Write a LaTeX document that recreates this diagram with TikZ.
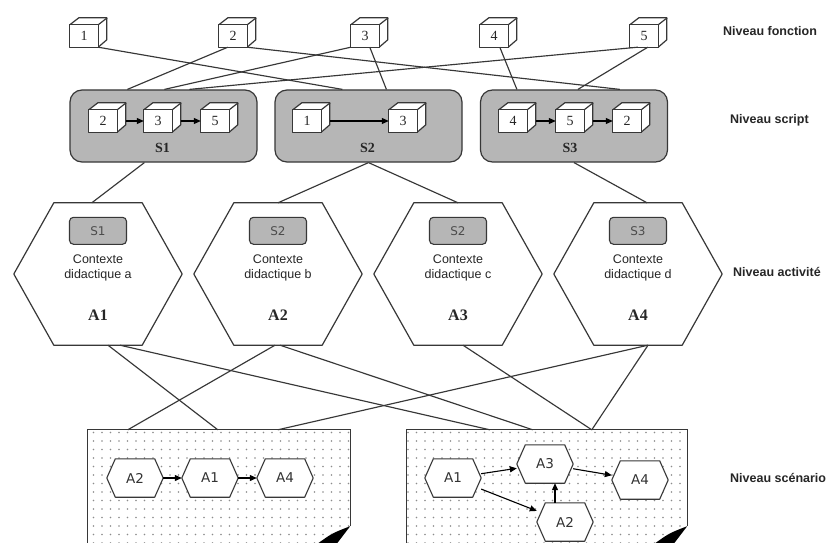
\documentclass[tikz,border=0pt]{standalone}
\usepackage{fontspec}
\setmainfont{Liberation Serif}
\setsansfont{Liberation Sans}
\newfontfamily\dejavu{DejaVu Sans}
\usetikzlibrary{calc,arrows.meta,patterns.meta}

\definecolor{boxgray}{RGB}{182,182,182}
\definecolor{linegray}{RGB}{55,55,55}
\definecolor{dotgray}{RGB}{140,140,140}

\tikzset{
  conn/.style={draw=linegray, line width=1.15pt},
  cubeface/.style={draw=linegray, line width=1.2pt, fill=white, line join=round},
  cubef/.style={minimum width=28pt, minimum height=22pt, inner sep=0pt},
  cubetxt/.style={inner sep=0pt, font=\fontsize{14}{14}\selectfont, text=black!85},
  sbox/.style={draw=linegray, line width=1.2pt, fill=boxgray, rounded corners=12pt,
    minimum width=187pt, minimum height=72pt, inner sep=0pt},
  slabel/.style={inner sep=0pt, font=\bfseries\fontsize{14}{14}\selectfont, text=black!85},
  carr/.style={draw=black, line width=1.1pt, -{Triangle[length=7pt,width=6pt]}},
  bighexbox/.style={minimum width=168pt, minimum height=142pt, inner sep=0pt},
  hexline/.style={draw=linegray, line width=1.2pt, fill=white, line join=round},
  innerS/.style={draw=linegray, line width=1.1pt, fill=boxgray, rounded corners=4pt,
    minimum width=57pt, minimum height=27pt, inner sep=0pt,
    font=\dejavu\fontsize{12}{12}\selectfont, text=black!70},
  ctx/.style={align=center, inner sep=0pt, font=\sffamily\fontsize{12.5}{15}\selectfont, text=black!85},
  alabel/.style={inner sep=0pt, font=\bfseries\fontsize{16}{16}\selectfont, text=black!85},
  shexbox/.style={minimum width=56pt, minimum height=38pt, inner sep=0pt},
  shexline/.style={draw=linegray, line width=1.1pt, fill=white, line join=round},
  shtxt/.style={inner sep=0pt, font=\dejavu\fontsize{13.5}{13.5}\selectfont, text=black!80},
  scbox/.style={minimum height=113pt, inner sep=0pt},
  scline/.style={draw=linegray, line width=1.2pt},
  scfill/.style={pattern={Dots[distance=8.5pt, radius=0.9pt]}, pattern color=dotgray},
  niv/.style={anchor=west, inner sep=0pt, font=\sffamily\bfseries\fontsize{12.5}{12.5}\selectfont, text=black!85},
}

\newcommand\cubeat[4]{%
  \node[cubef] (#1) at (#2,#3) {};
  \filldraw[cubeface] (#1.north west) -- ++(9,-7) -- ++(28,0) -- ++(0,22) -- (#1.south east) -- (#1.north east) -- cycle;
  \draw[cubeface] (#1.north east) -- ++(9,-7);
  \draw[cubeface] (#1.north west) rectangle (#1.south east);
  \node[cubetxt] (#1-t) at (#1) {#4};
}
\newcommand\hexpath[3]{%
  \path[#1] (#2.west) -- ($(#2.north west)+(#3,0)$) -- ($(#2.north east)+(-#3,0)$) -- (#2.east)
    -- ($(#2.south east)+(-#3,0)$) -- ($(#2.south west)+(#3,0)$) -- cycle;
}
\newcommand\scenbox[1]{%
  \fill[white] (#1.south west) -- (#1.north west) -- (#1.north east) -- ($(#1.south east)+(0,-17)$)
    .. controls ($(#1.south east)+(-18,-10)$) .. ($(#1.south east)+(-32,0)$) -- cycle;
  \fill[scfill] (#1.south west) -- (#1.north west) -- (#1.north east) -- ($(#1.south east)+(0,-17)$)
    .. controls ($(#1.south east)+(-18,-10)$) .. ($(#1.south east)+(-32,0)$) -- cycle;
  \draw[scline] (#1.south west) -- (#1.north west) -- (#1.north east) -- ($(#1.south east)+(0,-17)$);
  \fill[black] ($(#1.south east)+(0,-17)$) .. controls ($(#1.south east)+(-18,-10)$) .. ($(#1.south east)+(-32,0)$)
    -- ($(#1.south east)+(-13,0)$) -- cycle;
}

\begin{document}
\begin{tikzpicture}[x=1pt, y=-1pt]
\useasboundingbox (0,0) rectangle (839,543);
\fill[white] (0,0) rectangle (839,543);

% ---------- function level ----------
\cubeat{c1}{84}{36}{1}
\cubeat{c2}{233}{36}{2}
\cubeat{c3}{365}{36}{3}
\cubeat{c4}{494}{36}{4}
\cubeat{c5}{644}{36}{5}

% ---------- script level ----------
\node[sbox] (S1) at (163.5,126) {};
\node[sbox] (S2) at (368.5,126) {};
\node[sbox] (S3) at (574,126) {};
\node[slabel] (S1l) at ($(S1.south)+(-1,-15)$) {S1};
\node[slabel] (S2l) at ($(S2.south)+(-1,-15)$) {S2};
\node[slabel] (S3l) at ($(S3.south)+(-4,-15)$) {S3};

\cubeat{s1a}{103}{121}{2}
\cubeat{s1b}{158}{121}{3}
\cubeat{s1c}{215}{121}{5}
\cubeat{s2a}{307}{121}{1}
\cubeat{s2b}{403}{121}{3}
\cubeat{s3a}{513}{121}{4}
\cubeat{s3b}{570}{121}{5}
\cubeat{s3c}{627}{121}{2}
\draw[carr] ($(s1a.east)+(9,0)$) -- (s1b.west);
\draw[carr] ($(s1b.east)+(9,0)$) -- (s1c.west);
\draw[carr] ($(s2a.east)+(9,0)$) -- (s2b.west);
\draw[carr] ($(s3a.east)+(9,0)$) -- (s3b.west);
\draw[carr] ($(s3b.east)+(9,0)$) -- (s3c.west);

% ---------- activity level ----------
\foreach \n/\x/\s/\c in {1/98/S1/a, 2/278/S2/b, 3/458/S2/c, 4/638/S3/d}{
  \node[bighexbox] (A\n) at (\x,274) {};
  \hexpath{hexline}{A\n}{40}
  \node[innerS] (A\n s) at ($(A\n.north)+(0,28)$) {\s};
  \node[ctx] (A\n c) at ($(A\n.center)+(0,-6)$) {Contexte\\didactique \c};
  \node[alabel] (A\n l) at ($(A\n.center)+(0,41)$) {A\n};
}

% ---------- scenario level ----------
\node[scbox, minimum width=262pt] (scL) at (219,486.5) {};
\node[scbox, minimum width=280pt] (scR) at (547,486.5) {};
\scenbox{scL}
\scenbox{scR}

\foreach \nm/\x/\y/\t in {lA2/135/478/A2, lA1/210/478/A1, lA4/285/478/A4,
                          rA1/453/478/A1, rA3/545/464/A3, rA4/640/480/A4, rA2/565/522/A2}{
  \node[shexbox] (\nm) at (\x,\y) {};
  \hexpath{shexline}{\nm}{8.5}
  \node[shtxt] (\nm t) at (\nm) {\t};
}
\draw[carr] (lA2) -- (lA1);
\draw[carr] (lA1) -- (lA4);
\draw[carr] (rA1) -- (rA3);
\draw[carr] (rA1) -- (rA2);
\draw[carr] ($(rA2.north)+(-10,0)$) -- ($(rA3.south)+(10,0)$);
\draw[carr] (rA3) -- (rA4);

% ---------- level labels ----------
\node[niv] (nf) at (723,31) {Niveau fonction};
\node[niv] (ns) at (730,120) {Niveau script};
\node[niv] (na) at (733,272) {Niveau activité};
\node[niv] (nsc) at (730,478) {Niveau scénario};

% ---------- connectors: function -> script ----------
\draw[conn] (c1.south east) -- ($(S2.north west)+(68,0)$);
\draw[conn] ($(c2.south west)+(9,0)$) -- ($(S1.north west)+(58,0)$);
\draw[conn] (c2.south east) -- ($(S3.north west)+(140,0)$);
\draw[conn] (c3.south west) -- ($(S1.north west)+(95,0)$);
\draw[conn] ($(c3.south west)+(19,0)$) -- ($(S2.north west)+(112,0)$);
\draw[conn] ($(c4.south west)+(20,0)$) -- ($(S3.north west)+(37,0)$);
\draw[conn] ($(c5.south west)+(8,0)$) -- ($(S1.north west)+(120,0)$);
\draw[conn] ($(c5.south west)+(18,0)$) -- ($(S3.north west)+(98,0)$);

% ---------- connectors: script -> activity ----------
\draw[conn] ($(S1.south west)+(75,0)$) -- ($(A1.north west)+(78,0)$);
\draw[conn] (S2.south) -- (A2.north);
\draw[conn] (S2.south) -- (A3.north);
\draw[conn] (S3.south) -- ($(A4.north)+(9,0)$);

% ---------- connectors: activity -> scenario ----------
\draw[conn] ($(A1.south)+(10,0)$) -- ($(scL.north west)+(130,0)$);
\draw[conn] ($(A1.south)+(22,0)$) -- ($(scR.north west)+(83,0)$);
\draw[conn] ($(A2.south)+(-3,0)$) -- ($(scL.north west)+(40,0)$);
\draw[conn] ($(A2.south)+(2,0)$) -- ($(scR.north west)+(126,0)$);
\draw[conn] ($(A3.south)+(5,0)$) -- ($(scR.north west)+(185,0)$);
\draw[conn] ($(A4.south)+(10,0)$) -- ($(scR.north west)+(185,0)$);
\draw[conn] ($(A4.south)+(10,0)$) -- ($(scL.north west)+(190,0)$);
\end{tikzpicture}
\end{document}
